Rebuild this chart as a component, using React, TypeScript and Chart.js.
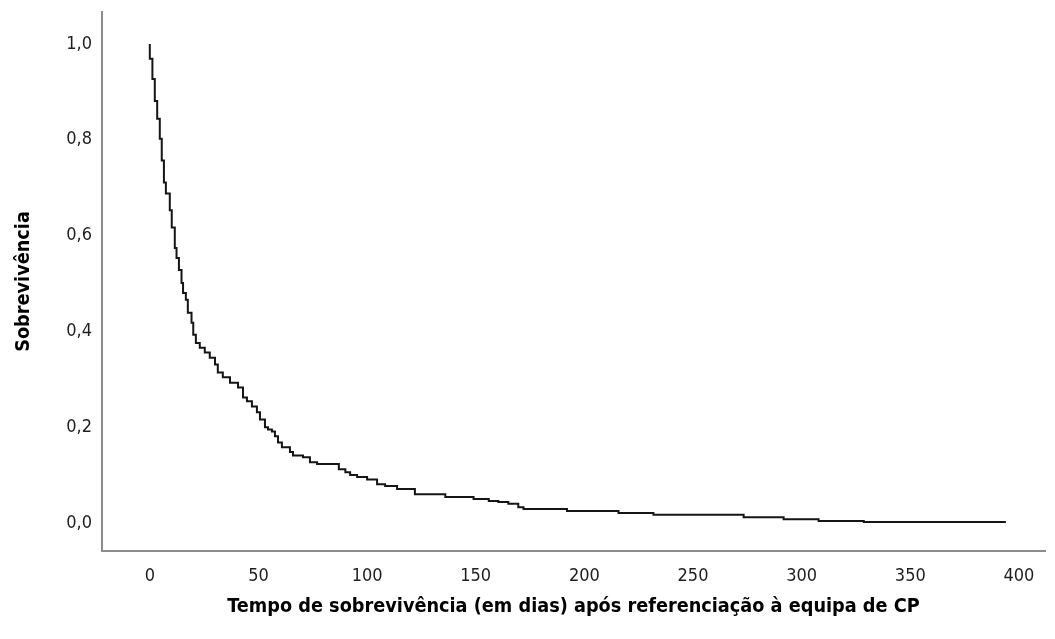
import { useEffect, useRef } from "react";
import { Chart, registerables } from "chart.js";

Chart.register(...registerables);

// Kaplan–Meier estimate: event times (days) and survival after each event
const TIMES = [
  0, 1.2, 2.3, 3.4, 4.6, 5.5, 6.5, 7.4, 9.2, 10.1, 11.5, 12.3, 13.4, 14.6, 15.3,
  16.6, 17.5, 19.2, 20.0, 21.2, 23.0, 25.3, 27.6, 30.0, 31.3, 33.6, 36.9, 40.6,
  42.9, 44.7, 47.0, 49.3, 50.7, 53.0, 54.4, 56.2, 57.6, 59.0, 60.8, 64.5, 65.9,
  70.5, 73.7, 77.0, 87.0, 90.0, 92.2, 95.4, 100.0, 104.6, 108.3, 113.8, 122.0,
  136.0, 149.0, 156.0, 160.4, 165.0, 169.6, 172.0, 192.0, 215.7, 231.8, 273.3,
  291.7, 307.8, 328.6, 372.4, 394.0,
];
const SURVIVAL = [
  1.0, 0.969, 0.927, 0.881, 0.844, 0.802, 0.757, 0.711, 0.688, 0.653, 0.617,
  0.574, 0.553, 0.528, 0.501, 0.48, 0.466, 0.439, 0.418, 0.393, 0.376, 0.366,
  0.356, 0.345, 0.331, 0.314, 0.304, 0.293, 0.283, 0.262, 0.254, 0.243, 0.231,
  0.216, 0.2, 0.195, 0.191, 0.181, 0.168, 0.158, 0.148, 0.141, 0.137, 0.127,
  0.123, 0.112, 0.106, 0.1, 0.096, 0.091, 0.081, 0.077, 0.071, 0.06, 0.054,
  0.05, 0.046, 0.044, 0.04, 0.033, 0.029, 0.025, 0.021, 0.017, 0.012, 0.008,
  0.004, 0.002, 0.002,
];

const X_TICKS = [0, 50, 100, 150, 200, 250, 300, 350, 400];
const Y_TICKS = [0, 0.2, 0.4, 0.6, 0.8, 1.0];

const X_TITLE = "Tempo de sobrevivência (em dias) após referenciação à equipa de CP";
const Y_TITLE = "Sobrevivência";

const TICK_FONT = { family: "'DejaVu Sans Condensed', 'DejaVu Sans', sans-serif", size: 18 };
const TITLE_FONT = {
  family: "'DejaVu Sans Condensed', 'DejaVu Sans', sans-serif",
  size: 19.7,
  weight: "bold" as const,
};

export default function App() {
  const canvasRef = useRef<HTMLCanvasElement | null>(null);

  useEffect(() => {
    const canvas = canvasRef.current;
    if (!canvas) return;
    const points = TIMES.map((t, i) => ({ x: t, y: SURVIVAL[i] }));
    const chart = new Chart(canvas, {
      type: "line",
      data: {
        datasets: [
          {
            data: points,
            borderColor: "#151515",
            borderWidth: 2,
            pointRadius: 0,
            stepped: "after",
            fill: false,
          },
        ],
      },
      options: {
        animation: false,
        responsive: false,
        devicePixelRatio: 1,
        layout: { padding: { top: 12, right: 10, left: 0, bottom: 0 } },
        plugins: { legend: { display: false }, tooltip: { enabled: false } },
        scales: {
          x: {
            type: "linear",
            min: -22,
            max: 412,
            afterFit: (s: any) => {
              s.height = 88;
              s.paddingLeft = 0;
              s.paddingRight = 0;
            },
            afterBuildTicks: (s: any) => {
              s.ticks = X_TICKS.map((v) => ({ value: v }));
            },
            grid: { display: true, color: "rgba(0,0,0,0)", drawTicks: false, drawOnChartArea: false },
            border: { display: true, color: "#8c8c8c", width: 2 },
            ticks: {
              padding: 15,
              font: TICK_FONT,
              color: "#1e1e1e",
              maxRotation: 0,
              autoSkip: false,
              callback: (v: any) => String(v),
            },
            title: {
              display: true,
              text: X_TITLE,
              font: TITLE_FONT,
              color: "#000",
              padding: { top: 0, bottom: 20 },
            },
          },
          y: {
            type: "linear",
            min: -0.0585,
            max: 1.0668,
            afterFit: (s: any) => {
              s.width = 102;
              s.paddingTop = 0;
              s.paddingBottom = 0;
            },
            afterBuildTicks: (s: any) => {
              s.ticks = Y_TICKS.map((v) => ({ value: v }));
            },
            grid: { display: true, color: "rgba(0,0,0,0)", drawTicks: false, drawOnChartArea: false },
            border: { display: true, color: "#8c8c8c", width: 2 },
            ticks: {
              padding: 10,
              font: TICK_FONT,
              color: "#1e1e1e",
              autoSkip: false,
              callback: (v: any) => Number(v).toFixed(1).replace(".", ","),
            },
            title: {
              display: true,
              text: Y_TITLE,
              font: TITLE_FONT,
              color: "#000",
              padding: { top: 12, bottom: 0 },
            },
          },
        },
      },
    });
    return () => chart.destroy();
  }, []);

  return (
    <div style={{ position: "fixed", left: 0, top: 0, width: 1055, height: 639, background: "#fff" }}>
      <canvas ref={canvasRef} width={1055} height={639} style={{ display: "block" }} />
    </div>
  );
}
